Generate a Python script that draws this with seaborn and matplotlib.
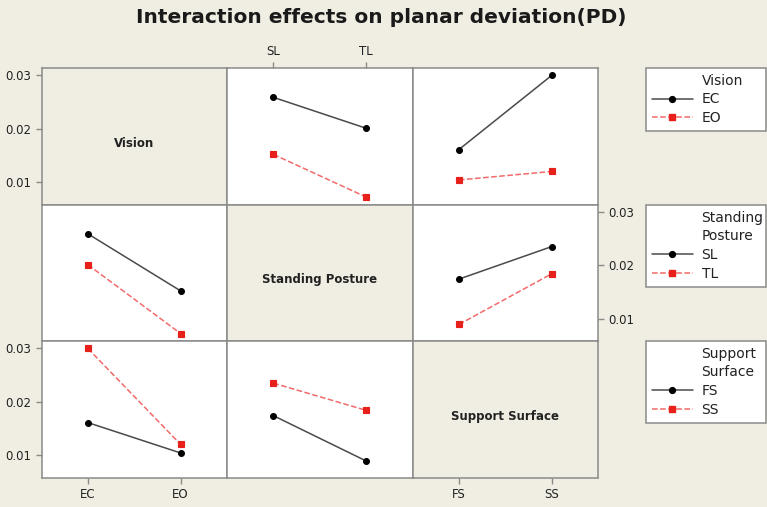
import matplotlib
matplotlib.use("Agg")
import matplotlib.pyplot as plt
import seaborn as sns
import pandas as pd
import numpy as np
from matplotlib.lines import Line2D

# factor names and levels
factors = ["Vision", "Standing Posture", "Support Surface"]
legend_titles = [["Vision"], ["Standing", "Posture"], ["Support", "Surface"]]
levels = [["EC", "EO"], ["SL", "TL"], ["FS", "SS"]]

# cell means (rows = first factor level, cols = second factor level)
vision_posture = np.array([[0.0259, 0.0201],
                           [0.0152, 0.0072]])
vision_surface = np.array([[0.0161, 0.0300],
                           [0.0104, 0.0120]])
posture_surface = np.array([[0.0174, 0.0235],
                            [0.0089, 0.0184]])

means = {(0, 1): vision_posture, (0, 2): vision_surface, (1, 2): posture_surface}

bg = "#f0ede3"
edge = "#8a8a8a"
black_col = "#4a4a4a"
red_col = "#e8201c"
red_line = "#f26a6a"

sns.set_style("white")
plt.rcParams["font.family"] = ["DejaVu Sans"]

fig, axes = plt.subplots(3, 3, figsize=(7.67, 5.07), dpi=100, sharey=True)
fig.patch.set_facecolor(bg)
fig.subplots_adjust(left=41.5 / 767, right=598 / 767, top=1 - 68 / 507,
                    bottom=1 - 477.5 / 507, wspace=0, hspace=0)

for i in range(3):
    for j in range(3):
        ax = axes[i, j]
        for s in ax.spines.values():
            s.set_color(edge)
            s.set_linewidth(1.1)
        ax.tick_params(left=False, bottom=False, labelleft=False, labelbottom=False)
        if i == j:
            ax.set_facecolor(bg)
            ax.text(0.5, 0.45, factors[i], transform=ax.transAxes, ha="center",
                    va="center", fontsize=8.5, fontweight="bold", color="#222222")
            ax.set_xticks([])
        else:
            ax.set_facecolor("white")
            m = means[(i, j)] if i < j else means[(j, i)].T
            df = pd.DataFrame({
                "x": [levels[j][c] for r in range(2) for c in range(2)],
                "trace": [levels[i][r] for r in range(2) for c in range(2)],
                "PD": [m[r, c] for r in range(2) for c in range(2)],
            })
            sns.pointplot(data=df, x="x", y="PD", hue="trace", order=levels[j],
                          hue_order=levels[i], palette=[black_col, red_line],
                          markers=["o", "s"], linestyles=["-", "--"],
                          markersize=4.2, linewidth=1.1, ax=ax, legend=False)
            # marker colours
            for k, ln in enumerate(ax.lines):
                ln.set_markerfacecolor(["black", red_col][k % 2])
                ln.set_markeredgecolor(["black", red_col][k % 2])
        ax.set_xlim(-0.5, 1.5)
        ax.set_xlabel("")
        ax.set_ylabel("")

axes[0, 0].set_ylim(0.0058, 0.0314)
yt = [0.01, 0.02, 0.03]
ytl = ["0.01", "0.02", "0.03"]
tick_kw = dict(color=edge, labelcolor="#222222", labelsize=8.5, length=4, width=1, direction="out")

for ax in [axes[0, 0], axes[2, 0]]:
    ax.set_yticks(yt)
    ax.set_yticklabels(ytl)
    ax.tick_params(axis="y", left=True, labelleft=True, **tick_kw)

ax = axes[1, 2]
ax.yaxis.set_ticks_position("right")
ax.tick_params(axis="y", right=True, labelright=True, left=False, labelleft=False, **tick_kw)

for (i, j, top) in [(0, 1, True), (2, 0, False), (2, 2, False)]:
    ax = axes[i, j]
    ax.set_xticks([0, 1])
    ax.set_xticklabels(levels[j])
    if top:
        ax.tick_params(axis="x", top=True, labeltop=True, bottom=False, labelbottom=False, **tick_kw)
    else:
        ax.tick_params(axis="x", bottom=True, labelbottom=True, **tick_kw)
    ax.set_xlim(-0.5, 1.5)

# legends on the right
tops = [68, 205, 341]
for k in range(3):
    handles = [Line2D([], [], linestyle="none") for _ in legend_titles[k]]
    handles += [
        Line2D([], [], color=black_col, lw=1.1, marker="o", markersize=4.2,
               markerfacecolor="black", markeredgecolor="black"),
        Line2D([], [], color=red_line, lw=1.1, ls="--", marker="s", markersize=4.2,
               markerfacecolor=red_col, markeredgecolor=red_col),
    ]
    labels = legend_titles[k] + levels[k]
    leg = fig.legend(handles, labels, loc="upper left",
                     bbox_to_anchor=(646 / 767, 1 - tops[k] / 507, 120 / 767, 0),
                     mode="expand", borderaxespad=0, fontsize=10, handlelength=3.0,
                     handletextpad=0.6, labelspacing=0.35, borderpad=0.4,
                     fancybox=False, frameon=True)
    fr = leg.get_frame()
    fr.set_edgecolor(edge)
    fr.set_linewidth(1.1)
    fr.set_facecolor("white")
    fr.set_alpha(1)
    for t in leg.get_texts():
        t.set_color("#222222")

fig.suptitle("Interaction effects on planar deviation(PD)", x=0.497, y=0.985,
             fontsize=14.5, fontweight="bold", color="#1a1a1a")

fig.savefig("out.png", dpi=100, facecolor=bg)
